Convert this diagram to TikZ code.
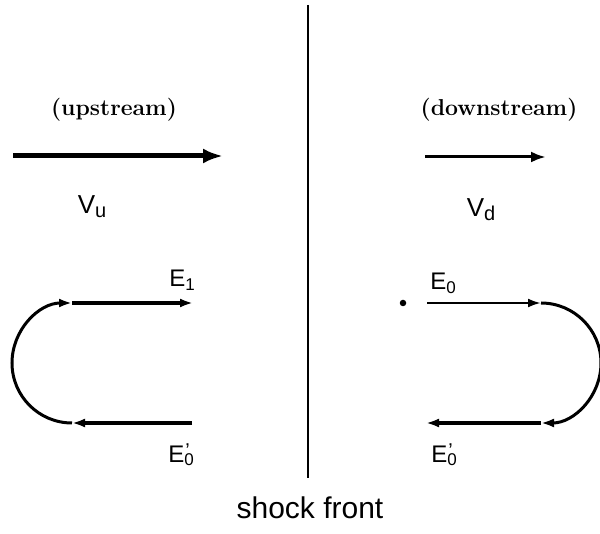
\documentclass[tikz,border=0pt]{standalone}
\usepackage{fontspec}
\setsansfont{Liberation Sans}
\usetikzlibrary{arrows.meta}
\newcommand{\Esub}[1]{E\raisebox{-0.3ex}{\fontsize{17}{17}\selectfont #1}}
\newcommand{\Eprime}[1]{E\rlap{\raisebox{0.35ex}{\fontsize{20}{20}\selectfont\kern1pt ’}}\raisebox{-0.3ex}{\fontsize{17}{17}\selectfont #1}}
\begin{document}
\begin{tikzpicture}[x=1pt,y=-1pt,
  lbl/.style={font=\sffamily\fontsize{24}{24}\selectfont, inner sep=0pt},
  hdr/.style={font=\bfseries\fontsize{23}{23}\selectfont, inner sep=0pt},
  vlbl/.style={font=\sffamily\fontsize{26}{26}\selectfont, inner sep=0pt},
  tipS/.style={-{Latex[length=13pt,width=9pt]}},
  tipB/.style={-{Latex[length=20pt,width=15pt]}}]
\useasboundingbox (0,0) rectangle (600,534);
% shock front
\coordinate (sTop) at (308,5);
\coordinate (sBot) at (308,478);
\draw[line width=2.4pt] (sTop) -- (sBot);
\node[lbl, font=\sffamily\fontsize{30}{30}\selectfont] (shock) at (310,508) {shock front};
% headings
\node[hdr] (up) at (114,110) {(upstream)};
\node[hdr] (down) at (499,110) {(downstream)};
% flow arrows
\coordinate (ua) at (13,156);
\coordinate (ub) at (223,156);
\draw[line width=5pt, tipB] (ua) -- (ub);
\coordinate (da) at (425,157);
\coordinate (db) at (546,157);
\draw[line width=3pt, -{Latex[length=15pt,width=11pt]}] (da) -- (db);
\node[vlbl] (Vu) at (92,207) {V\raisebox{-0.3ex}{\fontsize{20}{20}\selectfont u}};
\node[vlbl] (Vd) at (481,210) {V\raisebox{-0.3ex}{\fontsize{20}{20}\selectfont d}};
% left loop
\coordinate (lbR) at (192,423);
\coordinate (lbL) at (72,423);
\coordinate (ltL) at (72,303);
\coordinate (ltR) at (193,303);
\draw[line width=3.2pt, tipS] (lbR) -- (lbL);
\draw[line width=3pt, tipS] (lbL) arc (90:270:60);
\draw[line width=4pt, tipS] (ltL) -- (ltR);
\node[lbl] (E1) at (182,280) {\Esub{1}};
\node[lbl] (E0pL) at (181,455) {\Eprime{0}};
% right loop
\node[circle, fill=black, inner sep=0pt, minimum size=6.5pt] (dot) at (403,303) {};
\coordinate (rtL) at (427,303);
\coordinate (rtR) at (541,303);
\coordinate (rbR) at (541,423);
\coordinate (rbL) at (426,423);
\draw[line width=2.4pt, tipS] (rtL) -- (rtR);
\draw[line width=3pt, tipS] (rtR) arc (-90:90:60);
\draw[line width=3.4pt, tipS] (rbR) -- (rbL);
\node[lbl] (E0R) at (443,283) {\Esub{0}};
\node[lbl] (E0pR) at (444,455) {\Eprime{0}};
\end{tikzpicture}
\end{document}
